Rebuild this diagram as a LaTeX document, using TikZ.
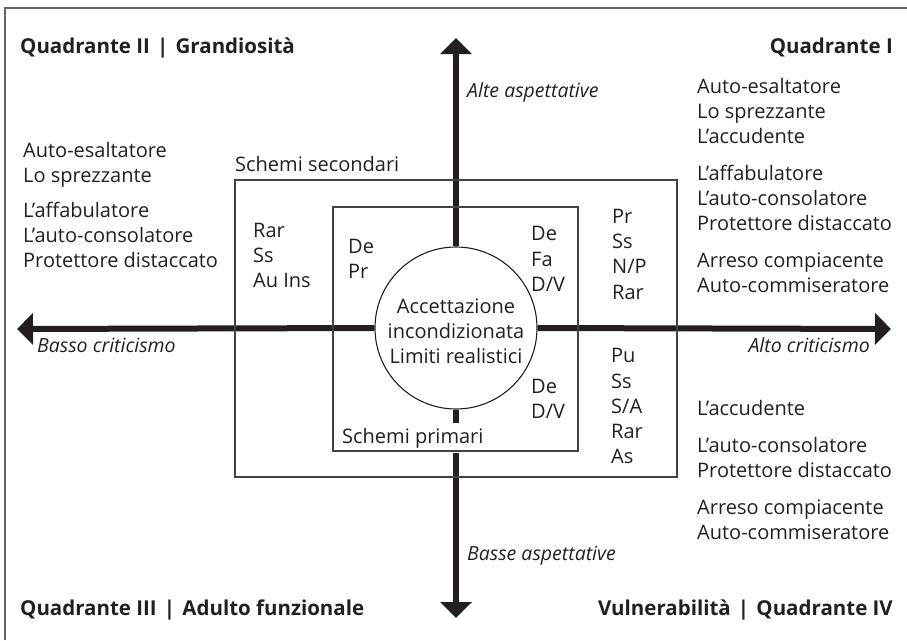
\documentclass[tikz,border=0pt]{standalone}
\usepackage{fontspec}
\setmainfont{Open Sans}
\usetikzlibrary{arrows.meta}
\definecolor{ink}{RGB}{35,31,32}
\tikzset{
  lbl/.style={inner sep=0pt, text=ink, font=\fontsize{20}{25}\selectfont},
  ttl/.style={inner sep=0pt, text=ink, font=\fontsize{20.5}{25}\selectfont\bfseries},
  itl/.style={inner sep=0pt, text=ink, font=\fontsize{19.5}{24}\selectfont\itshape},
  axis/.style={line width=6pt, draw=ink, -{Triangle[length=16pt,width=31pt]}},
  boxline/.style={draw=ink!85, line width=1.1pt},
  frameline/.style={draw=black!60, line width=1.2pt}
}
\newcommand{\vbar}{\hspace{0.35em}|\hspace{0.35em}}
\begin{document}
\begin{tikzpicture}[x=1pt,y=-1pt]
\useasboundingbox (0,0) rectangle (907,640);
% frame
\coordinate (f1) at (5,640);
\coordinate (f2) at (5,8);
\coordinate (f3) at (907,8);
\draw[frameline] (f1) -- (f2) -- (f3);

% centre circle
\node[circle, draw=ink, line width=1.1pt, minimum size=162pt, inner sep=0pt] (c) at (456,328) {};
\node[align=center, inner sep=0pt, font=\fontsize{20}{25}\selectfont, text=ink] (ctext) at (456,331)
  {Accettazione\\incondizionata\\Limiti realistici};

% axis end points
\coordinate (vt) at (456,38);
\coordinate (vb) at (456,618);
\coordinate (hl) at (17,329);
\coordinate (hr) at (891,329);

\draw[axis] (c.north) -- (vt);
\draw[axis] (c.south) -- (vb);
\draw[axis] (c.west) -- (hl);
\draw[axis] (c.east) -- (hr);

% boxes
\node[boxline, fill=none, minimum width=442pt, minimum height=297pt, inner sep=0pt] (outer) at (456,328.5) {};
\node[lbl, anchor=base west, fill=white, inner ysep=5pt, inner xsep=1pt] (prim) at (341,443) {Schemi primari};
\node[boxline, fill=none, minimum width=245pt, minimum height=244pt, inner sep=0pt] (inner) at (455.5,329) {};

\node[lbl, anchor=base west] (sec) at (235,171) {Schemi secondari};

% titles
\node[ttl, anchor=base west] (q2) at (20,53) {Quadrante II\vbar Grandiosità};
\node[ttl, anchor=base east] (q1) at (893,53) {Quadrante I};
\node[ttl, anchor=base west] (q3) at (20,615) {Quadrante III\vbar Adulto funzionale};
\node[ttl, anchor=base east] (q4) at (893,615) {Vulnerabilità\vbar Quadrante IV};

% axis labels
\node[itl, anchor=base west] (alte) at (467,97) {Alte aspettative};
\node[itl, anchor=base west] (basse) at (467,560) {Basse aspettative};
\node[itl, anchor=base west] (basso) at (37,352) {Basso criticismo};
\node[itl, anchor=base east] (alto) at (870,352) {Alto criticismo};

% right upper column
\foreach \t/\y [count=\i] in {Auto-esaltatore/93, Lo sprezzante/118, L’accudente/143,
   L’affabulatore/180, L’auto-consolatore/205, Protettore distaccato/230,
   Arreso compiacente/267, Auto-commiseratore/292}
  \node[lbl, anchor=base west] (ru\i) at (697,\y) {\t};

% left column
\foreach \t/\y [count=\i] in {Auto-esaltatore/157, Lo sprezzante/182,
   L’affabulatore/217, L’auto-consolatore/242, Protettore distaccato/267}
  \node[lbl, anchor=base west] (lc\i) at (23,\y) {\t};

% right lower column
\foreach \t/\y [count=\i] in {L’accudente/415,
   L’auto-consolatore/452, Protettore distaccato/477,
   Arreso compiacente/514, Auto-commiseratore/539}
  \node[lbl, anchor=base west] (rl\i) at (697,\y) {\t};

% codes
\foreach \t/\y [count=\i] in {Rar/237, Ss/262, Au Ins/287}
  \node[lbl, anchor=base west] (a\i) at (253,\y) {\t};
\foreach \t/\y [count=\i] in {De/253, Pr/278}
  \node[lbl, anchor=base west] (b\i) at (348,\y) {\t};
\foreach \t/\y [count=\i] in {De/240, Fa/266, {D/V}/291}
  \node[lbl, anchor=base west] (d\i) at (531,\y) {\t};
\foreach \t/\y [count=\i] in {Pr/223, Ss/248, {N/P}/273, Rar/299}
  \node[lbl, anchor=base west] (e\i) at (612,\y) {\t};
\foreach \t/\y [count=\i] in {Pu/362, Ss/388, {S/A}/413, Rar/438, As/463}
  \node[lbl, anchor=base west] (g\i) at (611,\y) {\t};
\foreach \t/\y [count=\i] in {De/393, {D/V}/418}
  \node[lbl, anchor=base west] (h\i) at (531,\y) {\t};
\end{tikzpicture}
\end{document}
